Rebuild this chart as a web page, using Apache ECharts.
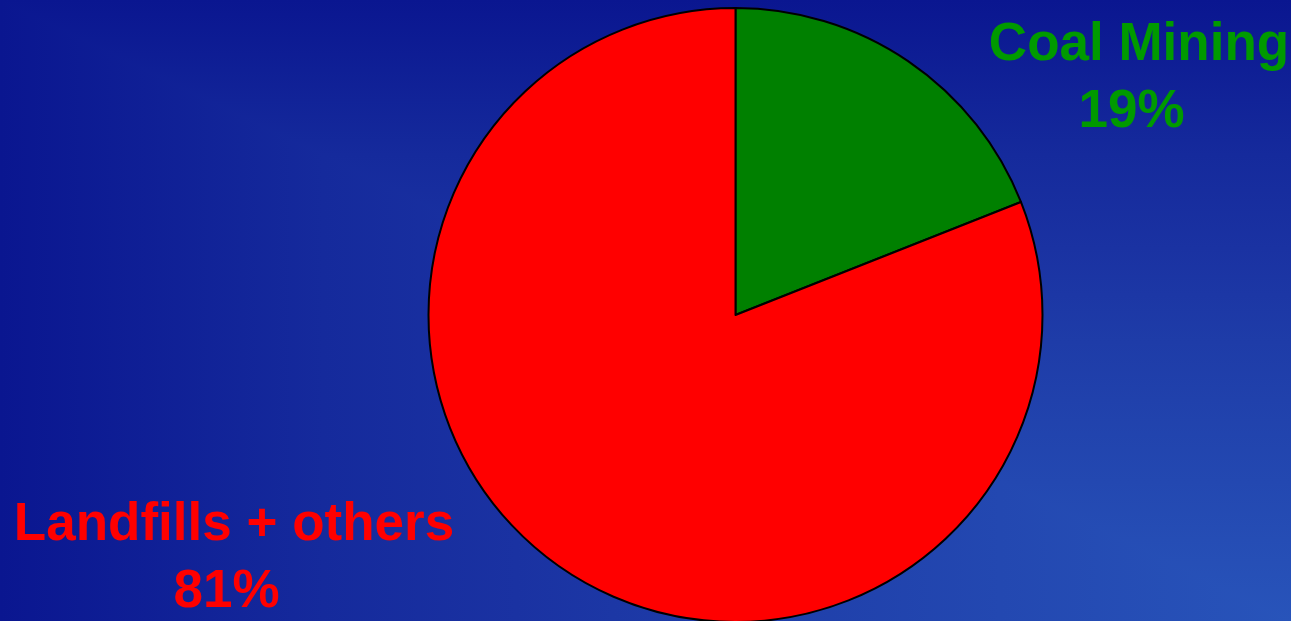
<!DOCTYPE html>
<html>
<head>
<meta charset="utf-8">
<script src="https://cdn.jsdelivr.net/npm/echarts@6/dist/echarts.min.js"></script>
<style>
  html, body { margin: 0; padding: 0; }
  #chart { width: 1291px; height: 621px; }
</style>
</head>
<body>
<div id="chart"></div>
<script>
const categories = ['Coal Mining', 'Landfills + others'];
const shares = [19, 81];
const sliceColors = ['#008000', '#ff0000'];
const labelColors = ['#009a00', '#ff0000'];

// label centres, in pixels
const labelPos = [[1139, 79], [234, 559]];

const chart = echarts.init(document.getElementById('chart'));
const W = chart.getWidth();
const H = chart.getHeight();

// background: rectangular gradient from the bottom-right corner
const bgStops = [
    { offset: 0, color: '#0a1690' },
    { offset: 0.25, color: '#152a9c' },
    { offset: 0.4, color: '#1a32a2' },
    { offset: 0.55, color: '#1e3ca8' },
    { offset: 1, color: '#2854ba' }
];

const option = {
    backgroundColor: '#0a1690',
    graphic: [
        {
            type: 'rect', z: -11, silent: true,
            shape: { x: 0, y: 0, width: W, height: H },
            style: { fill: new echarts.graphic.LinearGradient(0, 0, 1, 0, bgStops) }
        },
        {
            type: 'polygon', z: -10, silent: true,
            shape: { points: [[0, 0], [W, 0], [W, H]] },
            style: { fill: new echarts.graphic.LinearGradient(0, 0, 0, 1, bgStops) }
        }
    ],
    series: [{
        type: 'pie',
        center: [735.5, 315],
        radius: 307,
        startAngle: 90,
        clockwise: true,
        animation: false,
        silent: true,
        itemStyle: { borderColor: '#000', borderWidth: 2 },
        label: {
            show: true,
            position: 'outside',
            // the percent line carries a trailing space, as in the original slide
            formatter: '{b}\n{d}%\u00a0',
            fontFamily: 'Liberation Sans, Arial, sans-serif',
            fontWeight: 'bold',
            fontSize: 53,
            lineHeight: 67,
            align: 'center'
        },
        labelLine: { show: false },
        labelLayout: (params) => ({
            x: labelPos[params.dataIndex][0],
            y: labelPos[params.dataIndex][1],
            align: 'center',
            verticalAlign: 'middle'
        }),
        data: categories.map((name, i) => ({
            name: name,
            value: shares[i],
            itemStyle: { color: sliceColors[i] },
            label: { color: labelColors[i] }
        }))
    }]
};

chart.setOption(option);
</script>
</body>
</html>
